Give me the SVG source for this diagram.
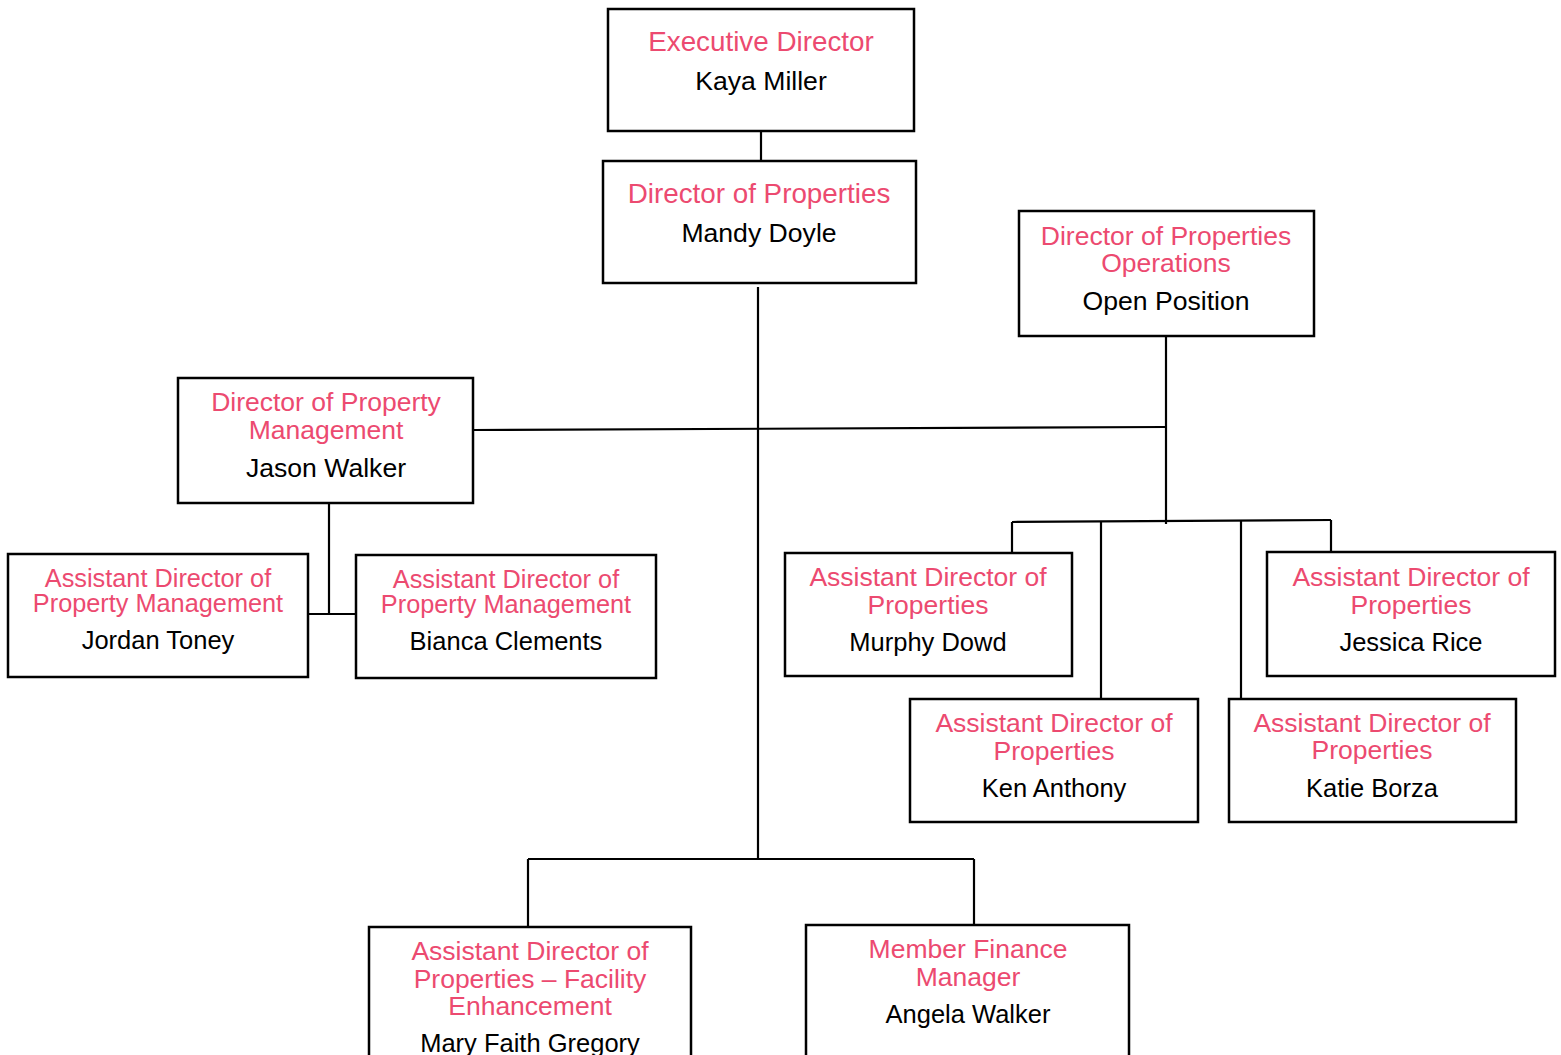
<svg xmlns="http://www.w3.org/2000/svg" width="1561" height="1055" viewBox="0 0 1561 1055">
<style>
.box{fill:#fff;stroke:#000;stroke-width:2.5}
.t{font-family:"Liberation Sans",Arial,sans-serif;font-size:26.5px;fill:#EC4A70;text-anchor:middle}
.n{font-family:"Liberation Sans",Arial,sans-serif;font-size:25.5px;fill:#000;text-anchor:middle}
.big{font-size:27.8px}
.nb{font-size:26.6px}
.sm{font-size:25.3px}
.c{stroke:#000;stroke-width:2.2;fill:none}
</style>
<rect width="1561" height="1055" fill="#fff"/>
<g id="connectors">
<line class="c" x1="761" y1="131" x2="761" y2="161"/>
<line class="c" x1="758" y1="287" x2="758" y2="859"/>
<line class="c" x1="474" y1="430" x2="1166" y2="427"/>
<line class="c" x1="1166" y1="336" x2="1166" y2="524"/>
<line class="c" x1="1012" y1="522" x2="1331" y2="520"/>
<line class="c" x1="1012" y1="522" x2="1012" y2="553"/>
<line class="c" x1="1101" y1="522" x2="1101" y2="699"/>
<line class="c" x1="1241" y1="521" x2="1241" y2="699"/>
<line class="c" x1="1331" y1="520" x2="1331" y2="552"/>
<line class="c" x1="329" y1="503" x2="329" y2="615"/>
<line class="c" x1="308" y1="614" x2="356" y2="614"/>
<line class="c" x1="528" y1="859" x2="974" y2="859"/>
<line class="c" x1="528" y1="859" x2="528" y2="927"/>
<line class="c" x1="974" y1="859" x2="974" y2="925"/>
</g>
<g id="exec">
<rect class="box" x="608" y="9" width="306" height="122"/>
<text class="t big" x="761" y="51">Executive Director</text>
<text class="n nb" x="761" y="90">Kaya Miller</text>
</g>
<g id="dir-properties">
<rect class="box" x="603" y="161" width="313" height="122"/>
<text class="t big" x="759" y="203">Director of Properties</text>
<text class="n nb" x="759" y="242">Mandy Doyle</text>
</g>
<g id="dir-operations">
<rect class="box" x="1019" y="211" width="295" height="125"/>
<text class="t" x="1166" y="245">Director of Properties</text>
<text class="t" x="1166" y="272">Operations</text>
<text class="n nb" x="1166" y="310">Open Position</text>
</g>
<g id="dir-property-mgmt">
<rect class="box" x="178" y="378" width="295" height="125"/>
<text class="t" x="326" y="411">Director of Property</text>
<text class="t" x="326" y="439">Management</text>
<text class="n nb" x="326" y="477">Jason Walker</text>
</g>
<g id="asst-toney">
<rect class="box" x="8" y="554" width="300" height="123"/>
<text class="t sm" x="158" y="587">Assistant Director of</text>
<text class="t sm" x="158" y="612">Property Management</text>
<text class="n" x="158" y="649">Jordan Toney</text>
</g>
<g id="asst-clements">
<rect class="box" x="356" y="555" width="300" height="123"/>
<text class="t sm" x="506" y="588">Assistant Director of</text>
<text class="t sm" x="506" y="613">Property Management</text>
<text class="n" x="506" y="650">Bianca Clements</text>
</g>
<g id="asst-dowd">
<rect class="box" x="785" y="553" width="287" height="123"/>
<text class="t" x="928" y="586">Assistant Director of</text>
<text class="t" x="928" y="614">Properties</text>
<text class="n" x="928" y="651">Murphy Dowd</text>
</g>
<g id="asst-rice">
<rect class="box" x="1267" y="552" width="288" height="124"/>
<text class="t" x="1411" y="586">Assistant Director of</text>
<text class="t" x="1411" y="614">Properties</text>
<text class="n" x="1411" y="651">Jessica Rice</text>
</g>
<g id="asst-anthony">
<rect class="box" x="910" y="699" width="288" height="123"/>
<text class="t" x="1054" y="732">Assistant Director of</text>
<text class="t" x="1054" y="760">Properties</text>
<text class="n" x="1054" y="797">Ken Anthony</text>
</g>
<g id="asst-borza">
<rect class="box" x="1229" y="699" width="287" height="123"/>
<text class="t" x="1372" y="732">Assistant Director of</text>
<text class="t" x="1372" y="759">Properties</text>
<text class="n" x="1372" y="797">Katie Borza</text>
</g>
<g id="asst-facility">
<rect class="box" x="369" y="927" width="322" height="140"/>
<text class="t" x="530" y="960">Assistant Director of</text>
<text class="t" x="530" y="988">Properties – Facility</text>
<text class="t" x="530" y="1015">Enhancement</text>
<text class="n" x="530" y="1052">Mary Faith Gregory</text>
</g>
<g id="finance">
<rect class="box" x="806" y="925" width="323" height="140"/>
<text class="t" x="968" y="958">Member Finance</text>
<text class="t" x="968" y="986">Manager</text>
<text class="n" x="968" y="1023">Angela Walker</text>
</g>
</svg>
